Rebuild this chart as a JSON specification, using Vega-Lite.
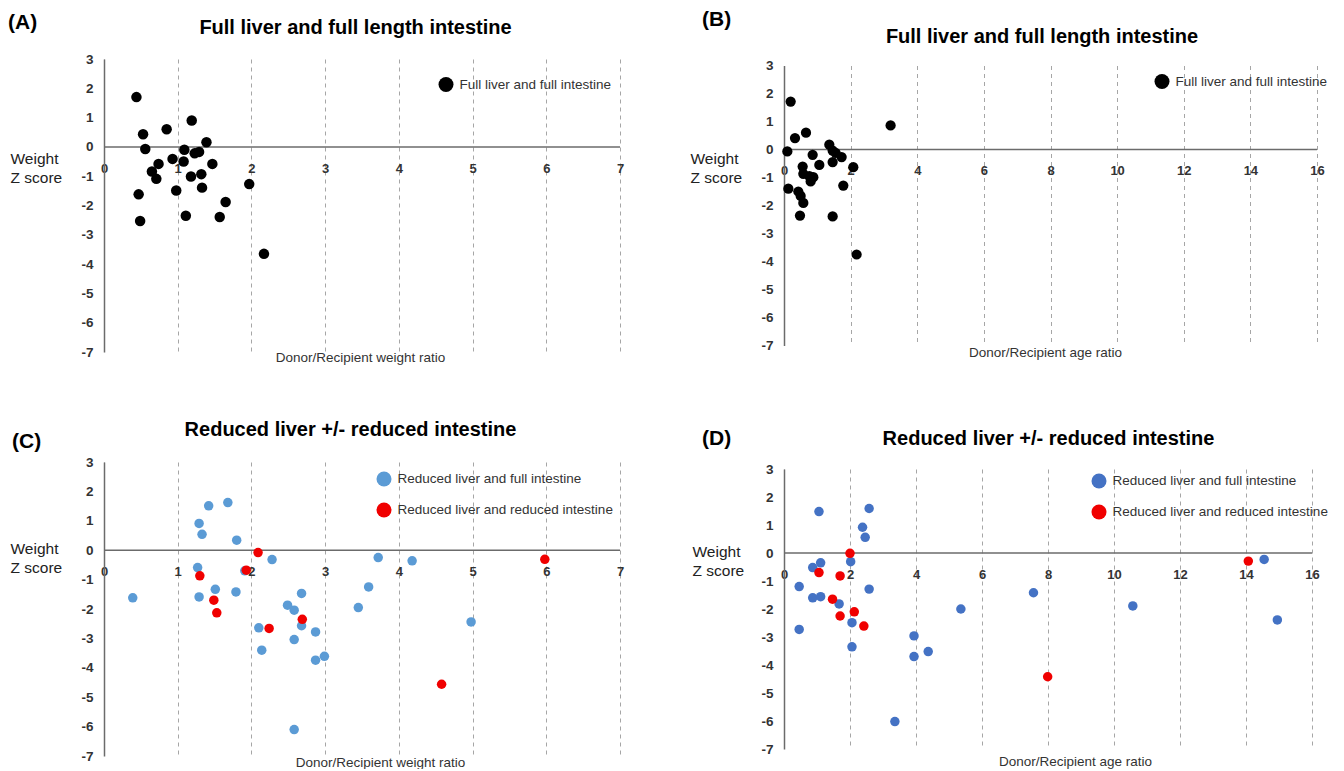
{
  "$schema": "https://vega.github.io/schema/vega-lite/v6.json",
  "padding": {"left": 8, "top": 9, "right": 5, "bottom": 0},
  "background": "white",
  "columns": 2,
  "spacing": {"row": 110, "column": 164},
  "bounds": "flush",
  "resolve": {"scale": {"color": "independent"}, "legend": {"color": "independent"}},
  "datasets": {
    "A": [
      {"x": 0.44, "z": 1.70, "group": "Full liver and full intestine"},
      {"x": 1.19, "z": 0.90, "group": "Full liver and full intestine"},
      {"x": 0.85, "z": 0.60, "group": "Full liver and full intestine"},
      {"x": 0.53, "z": 0.43, "group": "Full liver and full intestine"},
      {"x": 1.39, "z": 0.16, "group": "Full liver and full intestine"},
      {"x": 0.56, "z": -0.07, "group": "Full liver and full intestine"},
      {"x": 1.09, "z": -0.10, "group": "Full liver and full intestine"},
      {"x": 1.23, "z": -0.22, "group": "Full liver and full intestine"},
      {"x": 1.29, "z": -0.17, "group": "Full liver and full intestine"},
      {"x": 0.93, "z": -0.41, "group": "Full liver and full intestine"},
      {"x": 1.08, "z": -0.50, "group": "Full liver and full intestine"},
      {"x": 0.74, "z": -0.58, "group": "Full liver and full intestine"},
      {"x": 1.47, "z": -0.58, "group": "Full liver and full intestine"},
      {"x": 0.65, "z": -0.84, "group": "Full liver and full intestine"},
      {"x": 0.71, "z": -1.09, "group": "Full liver and full intestine"},
      {"x": 1.18, "z": -1.01, "group": "Full liver and full intestine"},
      {"x": 1.32, "z": -0.93, "group": "Full liver and full intestine"},
      {"x": 1.33, "z": -1.39, "group": "Full liver and full intestine"},
      {"x": 0.98, "z": -1.49, "group": "Full liver and full intestine"},
      {"x": 0.47, "z": -1.62, "group": "Full liver and full intestine"},
      {"x": 1.97, "z": -1.27, "group": "Full liver and full intestine"},
      {"x": 1.65, "z": -1.88, "group": "Full liver and full intestine"},
      {"x": 0.49, "z": -2.53, "group": "Full liver and full intestine"},
      {"x": 1.11, "z": -2.35, "group": "Full liver and full intestine"},
      {"x": 1.57, "z": -2.39, "group": "Full liver and full intestine"},
      {"x": 2.17, "z": -3.65, "group": "Full liver and full intestine"}
    ],
    "B": [
      {"x": 0.20, "z": 1.71, "group": "Full liver and full intestine"},
      {"x": 3.20, "z": 0.86, "group": "Full liver and full intestine"},
      {"x": 0.66, "z": 0.60, "group": "Full liver and full intestine"},
      {"x": 0.33, "z": 0.41, "group": "Full liver and full intestine"},
      {"x": 0.10, "z": -0.07, "group": "Full liver and full intestine"},
      {"x": 1.36, "z": 0.17, "group": "Full liver and full intestine"},
      {"x": 1.46, "z": -0.04, "group": "Full liver and full intestine"},
      {"x": 1.55, "z": -0.12, "group": "Full liver and full intestine"},
      {"x": 0.86, "z": -0.19, "group": "Full liver and full intestine"},
      {"x": 1.73, "z": -0.27, "group": "Full liver and full intestine"},
      {"x": 1.06, "z": -0.55, "group": "Full liver and full intestine"},
      {"x": 1.46, "z": -0.45, "group": "Full liver and full intestine"},
      {"x": 0.56, "z": -0.61, "group": "Full liver and full intestine"},
      {"x": 2.08, "z": -0.63, "group": "Full liver and full intestine"},
      {"x": 0.58, "z": -0.87, "group": "Full liver and full intestine"},
      {"x": 0.76, "z": -0.95, "group": "Full liver and full intestine"},
      {"x": 0.88, "z": -0.99, "group": "Full liver and full intestine"},
      {"x": 0.80, "z": -1.14, "group": "Full liver and full intestine"},
      {"x": 1.78, "z": -1.29, "group": "Full liver and full intestine"},
      {"x": 0.13, "z": -1.40, "group": "Full liver and full intestine"},
      {"x": 0.43, "z": -1.50, "group": "Full liver and full intestine"},
      {"x": 0.50, "z": -1.66, "group": "Full liver and full intestine"},
      {"x": 0.58, "z": -1.91, "group": "Full liver and full intestine"},
      {"x": 0.48, "z": -2.36, "group": "Full liver and full intestine"},
      {"x": 1.46, "z": -2.39, "group": "Full liver and full intestine"},
      {"x": 2.18, "z": -3.75, "group": "Full liver and full intestine"}
    ],
    "C": [
      {"x": 1.42, "z": 1.51, "group": "Reduced liver and full intestine"},
      {"x": 1.68, "z": 1.62, "group": "Reduced liver and full intestine"},
      {"x": 1.29, "z": 0.91, "group": "Reduced liver and full intestine"},
      {"x": 1.33, "z": 0.54, "group": "Reduced liver and full intestine"},
      {"x": 1.80, "z": 0.34, "group": "Reduced liver and full intestine"},
      {"x": 2.28, "z": -0.32, "group": "Reduced liver and full intestine"},
      {"x": 1.27, "z": -0.59, "group": "Reduced liver and full intestine"},
      {"x": 0.39, "z": -1.62, "group": "Reduced liver and full intestine"},
      {"x": 1.51, "z": -1.33, "group": "Reduced liver and full intestine"},
      {"x": 1.29, "z": -1.59, "group": "Reduced liver and full intestine"},
      {"x": 1.79, "z": -1.42, "group": "Reduced liver and full intestine"},
      {"x": 2.68, "z": -1.47, "group": "Reduced liver and full intestine"},
      {"x": 2.49, "z": -1.87, "group": "Reduced liver and full intestine"},
      {"x": 2.58, "z": -2.04, "group": "Reduced liver and full intestine"},
      {"x": 2.68, "z": -2.57, "group": "Reduced liver and full intestine"},
      {"x": 2.10, "z": -2.64, "group": "Reduced liver and full intestine"},
      {"x": 2.87, "z": -2.78, "group": "Reduced liver and full intestine"},
      {"x": 2.58, "z": -3.04, "group": "Reduced liver and full intestine"},
      {"x": 2.14, "z": -3.40, "group": "Reduced liver and full intestine"},
      {"x": 2.87, "z": -3.74, "group": "Reduced liver and full intestine"},
      {"x": 2.99, "z": -3.61, "group": "Reduced liver and full intestine"},
      {"x": 2.58, "z": -6.10, "group": "Reduced liver and full intestine"},
      {"x": 1.91, "z": -0.70, "group": "Reduced liver and full intestine"},
      {"x": 3.72, "z": -0.25, "group": "Reduced liver and full intestine"},
      {"x": 4.18, "z": -0.36, "group": "Reduced liver and full intestine"},
      {"x": 3.59, "z": -1.25, "group": "Reduced liver and full intestine"},
      {"x": 3.45, "z": -1.95, "group": "Reduced liver and full intestine"},
      {"x": 4.98, "z": -2.44, "group": "Reduced liver and full intestine"},
      {"x": 2.09, "z": -0.08, "group": "Reduced liver and reduced intestine"},
      {"x": 1.93, "z": -0.68, "group": "Reduced liver and reduced intestine"},
      {"x": 1.30, "z": -0.87, "group": "Reduced liver and reduced intestine"},
      {"x": 1.49, "z": -1.70, "group": "Reduced liver and reduced intestine"},
      {"x": 1.53, "z": -2.13, "group": "Reduced liver and reduced intestine"},
      {"x": 2.24, "z": -2.66, "group": "Reduced liver and reduced intestine"},
      {"x": 2.69, "z": -2.35, "group": "Reduced liver and reduced intestine"},
      {"x": 5.98, "z": -0.31, "group": "Reduced liver and reduced intestine"},
      {"x": 4.58, "z": -4.56, "group": "Reduced liver and reduced intestine"}
    ],
    "D": [
      {"x": 1.06, "z": 1.48, "group": "Reduced liver and full intestine"},
      {"x": 2.58, "z": 1.59, "group": "Reduced liver and full intestine"},
      {"x": 2.38, "z": 0.92, "group": "Reduced liver and full intestine"},
      {"x": 2.46, "z": 0.56, "group": "Reduced liver and full intestine"},
      {"x": 2.02, "z": -0.31, "group": "Reduced liver and full intestine"},
      {"x": 1.11, "z": -0.35, "group": "Reduced liver and full intestine"},
      {"x": 0.87, "z": -0.52, "group": "Reduced liver and full intestine"},
      {"x": 0.46, "z": -1.20, "group": "Reduced liver and full intestine"},
      {"x": 2.58, "z": -1.29, "group": "Reduced liver and full intestine"},
      {"x": 0.87, "z": -1.60, "group": "Reduced liver and full intestine"},
      {"x": 1.11, "z": -1.56, "group": "Reduced liver and full intestine"},
      {"x": 1.67, "z": -1.82, "group": "Reduced liver and full intestine"},
      {"x": 2.06, "z": -2.49, "group": "Reduced liver and full intestine"},
      {"x": 0.46, "z": -2.73, "group": "Reduced liver and full intestine"},
      {"x": 2.06, "z": -3.35, "group": "Reduced liver and full intestine"},
      {"x": 3.94, "z": -2.96, "group": "Reduced liver and full intestine"},
      {"x": 3.94, "z": -3.70, "group": "Reduced liver and full intestine"},
      {"x": 3.36, "z": -6.02, "group": "Reduced liver and full intestine"},
      {"x": 4.37, "z": -3.52, "group": "Reduced liver and full intestine"},
      {"x": 5.36, "z": -2.00, "group": "Reduced liver and full intestine"},
      {"x": 7.56, "z": -1.42, "group": "Reduced liver and full intestine"},
      {"x": 10.57, "z": -1.89, "group": "Reduced liver and full intestine"},
      {"x": 14.55, "z": -0.23, "group": "Reduced liver and full intestine"},
      {"x": 14.95, "z": -2.39, "group": "Reduced liver and full intestine"},
      {"x": 2.00, "z": -0.01, "group": "Reduced liver and reduced intestine"},
      {"x": 1.06, "z": -0.70, "group": "Reduced liver and reduced intestine"},
      {"x": 1.70, "z": -0.82, "group": "Reduced liver and reduced intestine"},
      {"x": 1.47, "z": -1.65, "group": "Reduced liver and reduced intestine"},
      {"x": 1.70, "z": -2.25, "group": "Reduced liver and reduced intestine"},
      {"x": 2.13, "z": -2.10, "group": "Reduced liver and reduced intestine"},
      {"x": 2.42, "z": -2.61, "group": "Reduced liver and reduced intestine"},
      {"x": 14.07, "z": -0.29, "group": "Reduced liver and reduced intestine"},
      {"x": 7.99, "z": -4.42, "group": "Reduced liver and reduced intestine"}
    ]
  },
  "concat": [
    {
      "width": 516,
      "height": 293,
      "title": {"text": "(A)", "anchor": "start", "frame": "group", "dx": -96, "dy": 19, "fontSize": 21, "fontWeight": "bold", "color": "#000000"},
      "resolve": {"axis": {"x": "independent"}},
      "layer": [
        {
          "data": {"values": [{}]},
          "mark": {"type": "rule", "color": "#6b6b6b", "strokeWidth": 1.5},
          "encoding": {
            "x": {"datum": 0, "type": "quantitative", "scale": {"domain": [0, 7], "nice": false, "zero": false},
              "axis": {"orient": "top", "title": "Full liver and full length intestine", "labels": false, "ticks": false, "domain": false, "grid": false, "titleX": 251, "titleY": -31.5, "titleAlign": "center", "titleBaseline": "middle", "titleFontSize": 20, "titleFontWeight": "bold", "titleColor": "#000000"}},
            "x2": {"datum": 7},
            "y": {"datum": 0, "type": "quantitative", "scale": {"domain": [-7, 3], "nice": false, "zero": false},
              "axis": {"values": [-7, -6, -5, -4, -3, -2, -1, 0, 1, 2, 3], "labelOverlap": false, "labelSeparation": 0, "labelExpr": "'' + datum.value", "title": ["Weight", "Z score"], "titleX": -94, "titleY": 99.5}}
          }
        },
        {
          "data": {"name": "A"},
          "mark": {"type": "circle", "size": 110, "opacity": 1},
          "encoding": {
            "x": {"field": "x", "type": "quantitative",
              "axis": {"orient": "bottom", "offset": -205, "values": [0, 1, 2, 3, 4, 5, 6, 7], "grid": true, "ticks": false, "domain": false, "labelFlush": false, "labelOverlap": false, "labelPadding": 15,
                "title": "Donor/Recipient weight ratio", "titleX": 256, "titleY": 210}},
            "y": {"field": "z", "type": "quantitative",
              "axis": {"values": [-7, -6, -5, -4, -3, -2, -1, 0, 1, 2, 3], "labelOverlap": false, "labelSeparation": 0, "labelExpr": "'' + datum.value", "title": ["Weight", "Z score"], "titleX": -94, "titleY": 99.5}},
            "color": {"field": "group", "type": "nominal", "scale": {"domain": ["Full liver and full intestine"], "range": ["#000000"]},
              "legend": {"orient": "none", "legendX": 334.5, "legendY": 18}}
          }
        }
      ]
    },
    {
      "width": 533,
      "height": 293,
      "title": {"text": "(B)", "anchor": "start", "frame": "group", "dx": -82, "dy": 7.5, "fontSize": 21, "fontWeight": "bold", "color": "#000000"},
      "resolve": {"axis": {"x": "independent"}},
      "layer": [
        {
          "data": {"values": [{}]},
          "mark": {"type": "rule", "color": "#6b6b6b", "strokeWidth": 1.5},
          "encoding": {
            "x": {"datum": 0, "type": "quantitative", "scale": {"domain": [0, 16], "nice": false, "zero": false},
              "axis": {"orient": "top", "title": "Full liver and full length intestine", "labels": false, "ticks": false, "domain": false, "grid": false, "titleX": 257.5, "titleY": -22.5, "titleAlign": "center", "titleBaseline": "middle", "titleFontSize": 20, "titleFontWeight": "bold", "titleColor": "#000000"}},
            "x2": {"datum": 16},
            "y": {"datum": 0, "type": "quantitative", "scale": {"domain": [-7, 3], "nice": false, "zero": false, "range": [286.5, 6.5]},
              "axis": {"values": [-7, -6, -5, -4, -3, -2, -1, 0, 1, 2, 3], "labelOverlap": false, "labelSeparation": 0, "labelExpr": "'' + datum.value", "title": ["Weight", "Z score"], "titleX": -94, "titleY": 99.5}}
          }
        },
        {
          "data": {"name": "B"},
          "mark": {"type": "circle", "size": 105, "opacity": 1},
          "encoding": {
            "x": {"field": "x", "type": "quantitative",
              "axis": {"orient": "bottom", "offset": -202.5, "values": [0, 2, 4, 6, 8, 10, 12, 14, 16], "grid": true, "ticks": false, "domain": false, "labelFlush": false, "labelOverlap": false, "labelPadding": 15,
                "title": "Donor/Recipient age ratio", "titleX": 261, "titleY": 202.5}},
            "y": {"field": "z", "type": "quantitative",
              "axis": {"values": [-7, -6, -5, -4, -3, -2, -1, 0, 1, 2, 3], "labelOverlap": false, "labelSeparation": 0, "labelExpr": "'' + datum.value", "title": ["Weight", "Z score"], "titleX": -94, "titleY": 99.5}},
            "color": {"field": "group", "type": "nominal", "scale": {"domain": ["Full liver and full intestine"], "range": ["#000000"]},
              "legend": {"orient": "none", "legendX": 370.5, "legendY": 15}}
          }
        }
      ]
    },
    {
      "width": 516,
      "height": 294,
      "title": {"text": "(C)", "anchor": "start", "frame": "group", "dx": -92, "dy": 37, "fontSize": 21, "fontWeight": "bold", "color": "#000000"},
      "resolve": {"axis": {"x": "independent"}},
      "layer": [
        {
          "data": {"values": [{}]},
          "mark": {"type": "rule", "color": "#6b6b6b", "strokeWidth": 1.5},
          "encoding": {
            "x": {"datum": 0, "type": "quantitative", "scale": {"domain": [0, 7], "nice": false, "zero": false},
              "axis": {"orient": "top", "title": "Reduced liver +/- reduced intestine", "labels": false, "ticks": false, "domain": false, "grid": false, "titleX": 246, "titleY": -33, "titleAlign": "center", "titleBaseline": "middle", "titleFontSize": 20, "titleFontWeight": "bold", "titleColor": "#000000"}},
            "x2": {"datum": 7},
            "y": {"datum": 0, "type": "quantitative", "scale": {"domain": [-7, 3], "nice": false, "zero": false},
              "axis": {"values": [-7, -6, -5, -4, -3, -2, -1, 0, 1, 2, 3], "labelOverlap": false, "labelSeparation": 0, "labelExpr": "'' + datum.value", "title": ["Weight", "Z score"], "titleX": -94, "titleY": 86}}
          }
        },
        {
          "data": {"name": "C"},
          "mark": {"type": "circle", "size": 90, "opacity": 1},
          "encoding": {
            "x": {"field": "x", "type": "quantitative",
              "axis": {"orient": "bottom", "offset": -206, "values": [0, 1, 2, 3, 4, 5, 6, 7], "grid": true, "ticks": false, "domain": false, "labelFlush": false, "labelOverlap": false, "labelPadding": 15,
                "title": "Donor/Recipient weight ratio", "titleX": 276, "titleY": 212}},
            "y": {"field": "z", "type": "quantitative",
              "axis": {"values": [-7, -6, -5, -4, -3, -2, -1, 0, 1, 2, 3], "labelOverlap": false, "labelSeparation": 0, "labelExpr": "'' + datum.value", "title": ["Weight", "Z score"], "titleX": -94, "titleY": 86}},
            "color": {"field": "group", "type": "nominal", "scale": {"domain": ["Reduced liver and full intestine", "Reduced liver and reduced intestine"], "range": ["#5b9bd5", "#f00000"]},
              "legend": {"orient": "none", "legendX": 272.5, "legendY": 9.5}}
          }
        }
      ]
    },
    {
      "width": 528,
      "height": 294,
      "title": {"text": "(D)", "anchor": "start", "frame": "group", "dx": -82, "dy": 24, "fontSize": 21, "fontWeight": "bold", "color": "#000000"},
      "resolve": {"axis": {"x": "independent"}},
      "layer": [
        {
          "data": {"values": [{}]},
          "mark": {"type": "rule", "color": "#6b6b6b", "strokeWidth": 1.5},
          "encoding": {
            "x": {"datum": 0, "type": "quantitative", "scale": {"domain": [0, 16], "nice": false, "zero": false},
              "axis": {"orient": "top", "title": "Reduced liver +/- reduced intestine", "labels": false, "ticks": false, "domain": false, "grid": false, "titleX": 264, "titleY": -23.5, "titleAlign": "center", "titleBaseline": "middle", "titleFontSize": 20, "titleFontWeight": "bold", "titleColor": "#000000"}},
            "x2": {"datum": 16},
            "y": {"datum": 0, "type": "quantitative", "scale": {"domain": [-7, 3], "nice": false, "zero": false, "range": [287, 7]},
              "axis": {"values": [-7, -6, -5, -4, -3, -2, -1, 0, 1, 2, 3], "labelOverlap": false, "labelSeparation": 0, "labelExpr": "'' + datum.value", "title": ["Weight", "Z score"], "titleX": -92, "titleY": 89}}
          }
        },
        {
          "data": {"name": "D"},
          "mark": {"type": "circle", "size": 90, "opacity": 1},
          "encoding": {
            "x": {"field": "x", "type": "quantitative",
              "axis": {"orient": "bottom", "offset": -203, "values": [0, 2, 4, 6, 8, 10, 12, 14, 16], "grid": true, "ticks": false, "domain": false, "labelFlush": false, "labelOverlap": false, "labelPadding": 15,
                "title": "Donor/Recipient age ratio", "titleX": 291, "titleY": 208}},
            "y": {"field": "z", "type": "quantitative",
              "axis": {"values": [-7, -6, -5, -4, -3, -2, -1, 0, 1, 2, 3], "labelOverlap": false, "labelSeparation": 0, "labelExpr": "'' + datum.value", "title": ["Weight", "Z score"], "titleX": -92, "titleY": 89}},
            "color": {"field": "group", "type": "nominal", "scale": {"domain": ["Reduced liver and full intestine", "Reduced liver and reduced intestine"], "range": ["#4472c4", "#f00000"]},
              "legend": {"orient": "none", "legendX": 307.5, "legendY": 11.5}}
          }
        }
      ]
    }
  ],
  "config": {
    "view": {"stroke": null},
    "font": "Liberation Sans",
    "axisX": {"gridDash": [4, 4], "gridColor": "#a6a6a6", "gridWidth": 1, "labelFontSize": 13, "labelFontWeight": "bold", "labelColor": "#333333", "titleFontSize": 13.5, "titleFontWeight": "normal", "titleColor": "#333333", "titleBaseline": "middle", "titleAnchor": null},
    "axisY": {"ticks": false, "grid": false, "domain": true, "domainColor": "#6b6b6b", "domainWidth": 1.5, "labelPadding": 11, "labelOverlap": false, "labelFontSize": 13.5, "labelFontWeight": "bold", "labelColor": "#333333", "titleAngle": 0, "titleAlign": "left", "titleBaseline": "middle", "titleFontSize": 15.5, "titleFontWeight": "normal", "titleLineHeight": 19, "titleColor": "#222222"},
    "legend": {"title": null, "symbolType": "circle", "symbolSize": 225, "symbolStrokeWidth": 0, "symbolOpacity": 1, "labelFontSize": 13.5, "labelColor": "#333333", "labelOffset": 6, "rowPadding": 16, "labelLimit": 400}
  }
}
